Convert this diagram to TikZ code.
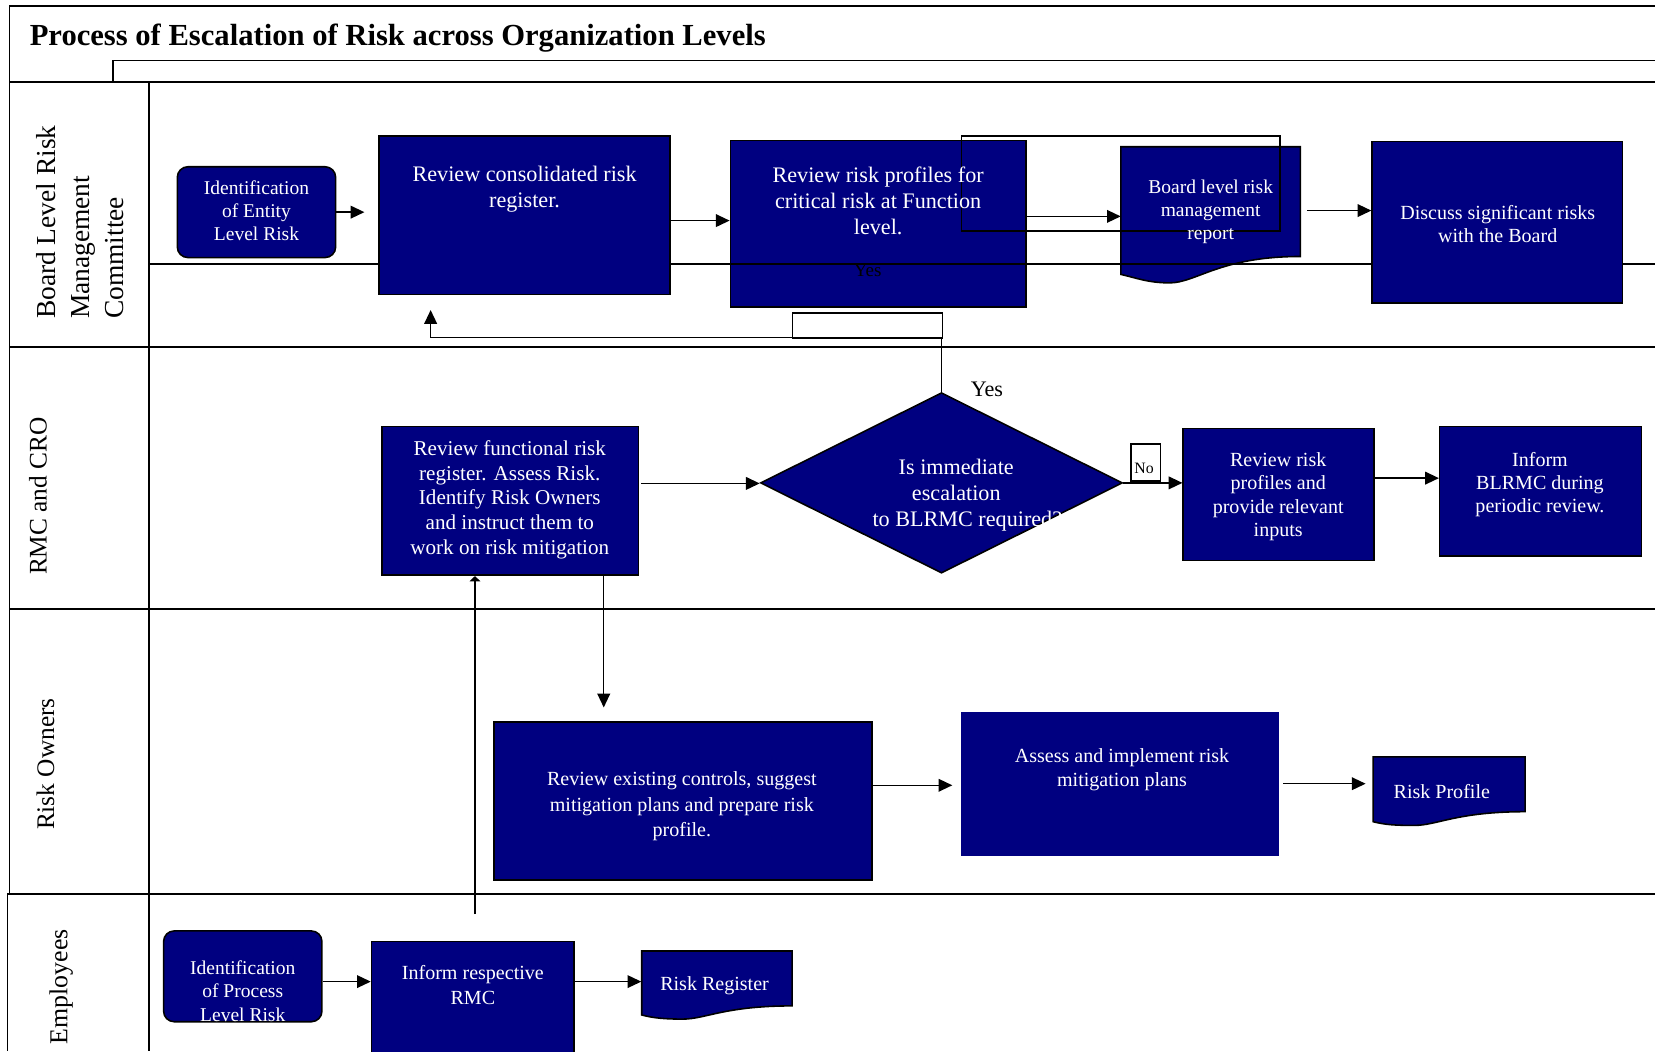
\documentclass[tikz,border=0pt]{standalone}
\usepackage{fontspec}
\setmainfont{Liberation Serif}
\usetikzlibrary{arrows.meta,shapes.geometric}
\definecolor{boxblue}{RGB}{0,0,128}
\newcommand{\fsz}[2]{\fontsize{#1}{#2}\selectfont}
% L R T LB RB TX TY
\newcommand{\docpath}[7]{%
  \filldraw[docst] (#1,#3) -- (#2,#3) -- (#2,#5)
   .. controls ({#2-0.45*(#2-#1)},#5) and ({#6+0.15*(#2-#1)},#7) .. (#6,#7)
   .. controls ({#6-0.12*(#2-#1)},#7) and ({#1+0.08*(#2-#1)},{#4+3}) .. (#1,#4) -- cycle;}
\begin{document}
\begin{tikzpicture}[x=1pt,y=-1pt,
  frame/.style={line width=1.6pt},
  thinframe/.style={line width=1.2pt},
  box/.style={draw=black, line width=1.5pt, fill=boxblue, inner sep=0pt},
  rbox/.style={box, rounded corners=10pt},
  docst/.style={fill=boxblue, draw=black, line width=1.5pt},
  ghost/.style={inner sep=0pt},
  txt/.style={text=white, align=center, inner sep=0pt, font=\fsz{19}{22}},
  lanelbl/.style={rotate=90, align=left, inner sep=0pt, font=\fsz{26}{32}},
  arr/.style={line width=1.4pt, -{Triangle[length=13pt,width=12pt]}},
  outl/.style={draw=black, line width=1.4pt}
]
\useasboundingbox (0,0) rectangle (1568,996);
\clip (0,0) rectangle (1568,996);
\fill[white] (0,0) rectangle (1568,996);

% ---------- frame ----------
\draw[frame] (9,6) -- (1568,6);
\draw[frame] (9,6) -- (9,847);
\draw[frame] (7,847) -- (7,996);
\draw[line width=2.2pt] (9,78) -- (1568,78);
\draw[thinframe] (107,78) -- (107,57) -- (1568,57);
\draw[frame] (141,78) -- (141,996);
\draw[line width=2pt] (9,329) -- (1568,329);
\draw[thinframe] (9,577) -- (1568,577);
\draw[frame] (7,847) -- (1568,847);
\draw[frame] (141,250) -- (1568,250);

% ---------- title and lane labels ----------
\node[anchor=base west, inner sep=0pt, font=\fsz{29}{34}\bfseries] (title) at (28,43) {Process of Escalation of Risk across Organization Levels};
\node[lanelbl] (l1) at (76,210.5) {Board Level Risk\\Management\\Committee};
\node[lanelbl, font=\fsz{24}{30}] (l2) at (36,470) {RMC and CRO};
\node[lanelbl, font=\fsz{24}{30}] (l3) at (43,724) {Risk Owners};
\node[lanelbl, font=\fsz{24.5}{30}] (l4) at (58,935) {Employees};

% ---------- lane 1 ----------
\node[rbox, minimum width=150pt, minimum height=86pt] (ent) at (243,201) {};
\node[box, minimum width=276pt, minimum height=150pt] (cons) at (497,204) {};
\node[box, minimum width=280pt, minimum height=158pt] (rp) at (832,212) {};
\docpath{1062}{1232}{139}{260}{243}{1108}{268}
\node[ghost, minimum width=170pt, minimum height=121pt] (brd) at (1147,199.5) {};
\node[box, minimum width=237pt, minimum height=153pt] (disc) at (1418.5,210.5) {};
\draw[frame] (692,250) -- (1232,250);

% ---------- lane 2 ----------
\node[box, minimum width=243pt, minimum height=141pt] (func) at (483.5,474.5) {};
\node[diamond, aspect=2, draw=black, line width=1.5pt, fill=boxblue, inner sep=0pt,
      minimum width=343pt, minimum height=171pt] (dia) at (892,457.5) {};
\node[box, minimum width=181pt, minimum height=125pt] (rrp) at (1211.5,468.5) {};
\node[box, minimum width=191pt, minimum height=123pt] (inf) at (1459.5,465.5) {};

% ---------- lane 3 ----------
\node[box, minimum width=358pt, minimum height=150pt] (rec) at (647,759) {};
\node[box, draw=boxblue, minimum width=300pt, minimum height=135pt] (ass) at (1061,742.5) {};
\docpath{1301}{1445}{717}{778.5}{769}{1340}{782}
\node[ghost, minimum width=144pt, minimum height=61.5pt] (rpf) at (1373,747.75) {};

% ---------- lane 4 ----------
\node[rbox, minimum width=150pt, minimum height=86pt] (ipl) at (230,925) {};
\node[box, minimum width=192pt, minimum height=118pt] (irm) at (448,951) {};
\docpath{608}{750.5}{901}{961.6}{953}{647}{965.5}
\node[ghost, minimum width=142.5pt, minimum height=61pt] (rr) at (679,931) {};

% ---------- outline rectangles ----------
\node[outl, fill=none, minimum width=302pt, minimum height=90pt, inner sep=0pt, anchor=north west] (ov1) at (910,128) {};
\node[outl, fill=none, minimum width=142pt, minimum height=24pt, inner sep=0pt, anchor=north west] (ov2) at (750,296) {};
\node[outl, fill=white, minimum width=28pt, minimum height=35pt, inner sep=0pt, anchor=north west] (nobox) at (1071,420) {};

% ---------- texts ----------
\node[txt, font=\fsz{18.5}{22}] (t1) at (243,199.5) {Identification\\of Entity\\Level Risk};
\node[txt, font=\fsz{21}{25}] (t2) at (497,179) {Review consolidated risk\\register.};
\node[txt, font=\fsz{21}{24.5}] (t3) at (832,190) {Review risk profiles for\\critical risk at Function\\level.};
\node[txt, font=\fsz{18.5}{22}] (t4) at (1147,200.5) {Board level risk\\management\\report};
\node[txt] (t5) at (1419,212) {Discuss significant risks\\with the Board};
\node[txt, font=\fsz{20}{23.5}] (t6) at (483,473.5) {Review functional risk\\register. Assess Risk.\\Identify Risk Owners\\and instruct them to\\work on risk mitigation};
\node[txt, font=\fsz{21}{24.5}] (t7) at (906,469) {Is immediate\\escalation\\\hspace*{21pt}to BLRMC required?};
\node[txt] (t8) at (1211,470.5) {Review risk\\profiles and\\provide relevant\\inputs};
\node[txt] (t9) at (1459,459) {Inform\\BLRMC during\\periodic review.};
\node[txt, font=\fsz{19}{24}] (t10) at (646,764) {Review existing controls, suggest\\mitigation plans and prepare risk\\profile.};
\node[txt, font=\fsz{19}{23}] (t11) at (1063,729.5) {Assess and implement risk\\mitigation plans};
\node[txt] (t12) at (1366,750) {Risk Profile};
\node[txt, font=\fsz{18.5}{22}] (t13) at (230,939) {Identification\\of Process\\Level Risk};
\node[txt, font=\fsz{19}{24}] (t14) at (448,933.5) {Inform respective\\RMC};
\node[txt] (t15) at (677,933.5) {Risk Register};

\node[inner sep=0pt, font=\fsz{21}{24}] (yes1) at (935,369) {Yes};
\node[inner sep=0pt, font=\fsz{18}{22}] (yes2) at (822,256) {Yes};
\node[inner sep=0pt, font=\fsz{15}{18}] (no) at (1084,444) {No};

% ---------- connectors ----------
\draw[arr, shorten >=13pt] (ent.east) -- (ent.east -| cons.west);
\coordinate (a1) at ([yshift=-5pt]cons.east);
\draw[arr] (a1) -- (a1 -| rp.west);
\coordinate (a2) at ([yshift=7pt]rp.east);
\draw[arr] (a2) -- (a2 -| brd.west);
\draw[arr, shorten <=6pt] (brd.east) -- (brd.east -| disc.west);
\coordinate (a3) at ([yshift=16.5pt]func.east);
\draw[arr, shorten <=2pt] (a3) -- (a3 -| dia.west);
\draw[arr] (dia.east) -- (dia.east -| rrp.west);
\coordinate (a4) at ([yshift=15.5pt]rrp.east);
\draw[arr] (a4) -- (a4 -| inf.west);
\coordinate (a5) at ([xshift=88.5pt]func.south);
\draw[arr, shorten >=13pt] (a5) -- (a5 |- rec.north);
\coordinate (a6) at ([yshift=15pt]rec.east);
\draw[arr, shorten >=8pt] (a6) -- (a6 -| ass.west);
\draw[arr, shorten <=4pt, shorten >=7pt] (ass.east) -- (ass.east -| rpf.west);
\coordinate (a7) at ([yshift=-5pt]ipl.east);
\draw[arr] (a7) -- (a7 -| irm.west);
\coordinate (a8) at ([yshift=21pt]irm.east);
\draw[arr] (a8) -- (a8 -| rr.west);
\coordinate (u0) at (450,866);
\draw[line width=1.2pt, -{Triangle[length=5pt,width=10pt]}] (u0) -- (u0 |- func.south);
\coordinate (c1) at (892,320);
\coordinate (c2) at (408,320);
\draw[arr, shorten >=14pt] (dia.north) -- (c1) -- (c2) -- (c2 |- cons.south);
\end{tikzpicture}
\end{document}
